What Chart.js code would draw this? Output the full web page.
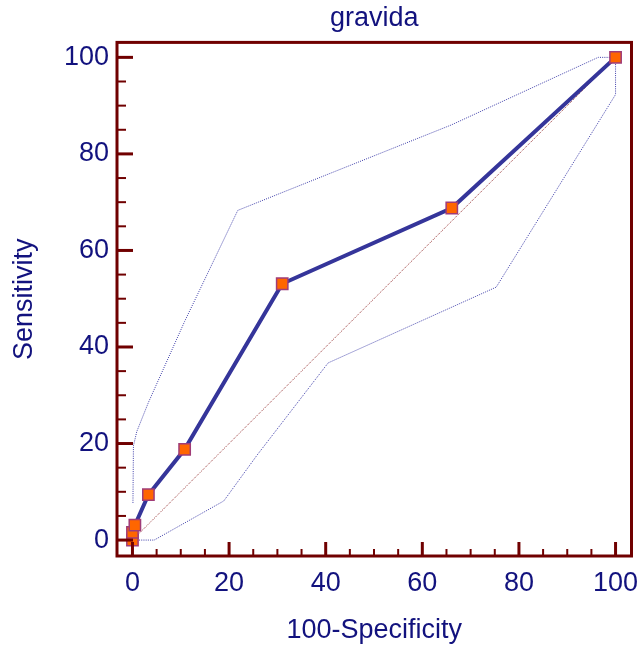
<!DOCTYPE html>
<html>
<head>
<meta charset="utf-8">
<script src="https://cdn.jsdelivr.net/npm/chart.js@4.4.1/dist/chart.umd.min.js"></script>
<style>
  html, body { margin: 0; padding: 0; background: #fff; }
  .box { width: 641px; height: 647px; }
</style>
</head>
<body>
<div class="box"><canvas id="chart"></canvas></div>
<script>
// ROC curve points (100-Specificity, Sensitivity)
const rocX = [0, 0, 0.5, 3.3, 10.8, 31.0, 66.1, 100];
const rocY = [0, 1.6, 3.1, 9.4, 18.8, 53.1, 68.8, 100];

// 95% confidence bounds
const upperX = [0.1, 0.2, 0.9, 3.3, 10.8, 21.8, 31.0, 66.0, 96.4, 100];
const upperY = [7.7, 19.5, 22.5, 28.5, 45.3, 68.3, 72.0, 86.0, 100, 100];
const lowerX = [0, 4.5, 18.9, 25.8, 40.5, 75.3, 100, 100];
const lowerY = [0, 0, 8.1, 17.6, 36.7, 52.4, 92.3, 100];

// reference diagonal
const diagX = [0, 100];
const diagY = [0, 100];

// axis ticks
const tickVals = [0, 20, 40, 60, 80, 100];
const MINOR_STEP = 5;

const TEXT = '#12127e';
const FRAME = '#700000';
const FONT = "'Liberation Sans', Arial, sans-serif";

const pts = (xs, ys) => xs.map((x, i) => ({ x, y: ys[i] }));

// frame + inward tick marks
const framePlugin = {
  id: 'frame',
  afterDatasetsDraw(chart) {
    const { ctx, chartArea: a, scales: { x, y } } = chart;
    ctx.save();
    ctx.strokeStyle = FRAME;
    ctx.lineCap = 'butt';
    for (let v = 0; v <= 100; v += MINOR_STEP) {
      const major = v % 20 === 0;
      ctx.lineWidth = major ? 3 : 2;
      const py = y.getPixelForValue(v);
      ctx.beginPath();
      ctx.moveTo(a.left, py);
      ctx.lineTo(a.left + (major ? 16 : 9), py);
      ctx.stroke();
      const px = x.getPixelForValue(v);
      ctx.beginPath();
      ctx.moveTo(px, a.bottom);
      ctx.lineTo(px, a.bottom - (major ? 14 : 7));
      ctx.stroke();
    }
    ctx.lineWidth = 3;
    ctx.strokeRect(a.left, a.top, a.right - a.left, a.bottom - a.top);
    ctx.restore();
  }
};

const ctx = document.getElementById('chart').getContext('2d');
new Chart(ctx, {
  type: 'scatter',
  data: {
    datasets: [
      {
        data: pts(rocX, rocY),
        showLine: true,
        borderColor: '#35359a',
        borderWidth: 4,
        pointStyle: 'rect',
        pointRadius: 8,
        pointBackgroundColor: '#ff6600',
        pointBorderColor: '#a03c78',
        pointBorderWidth: 1.5
      },
      {
        data: pts(upperX, upperY),
        showLine: true,
        borderColor: '#3c3ca8',
        borderWidth: 1,
        borderDash: [1, 1.2],
        pointRadius: 0
      },
      {
        data: pts(lowerX, lowerY),
        showLine: true,
        borderColor: '#3c3ca8',
        borderWidth: 1,
        borderDash: [1, 1.2],
        pointRadius: 0
      },
      {
        data: pts(diagX, diagY),
        showLine: true,
        borderColor: '#902828',
        borderWidth: 1,
        borderDash: [1, 1.2],
        pointRadius: 0
      }
    ]
  },
  options: {
    responsive: true,
    maintainAspectRatio: false,
    animation: false,
    layout: { padding: { left: 0, right: 9, top: 0, bottom: 0 } },
    plugins: {
      legend: { display: false },
      tooltip: { enabled: false },
      title: {
        display: true,
        text: 'gravida',
        fullSize: false,
        color: TEXT,
        font: { family: FONT, size: 27, weight: 'normal', lineHeight: 1.2 },
        padding: { top: 2, bottom: 8 }
      }
    },
    scales: {
      x: {
        type: 'linear',
        min: -3.2,
        max: 103.3,
        afterBuildTicks: s => { s.ticks = tickVals.map(v => ({ value: v })); },
        afterFit: s => { s.height = 91; s.paddingLeft = 0; s.paddingRight = 0; },
        grid: { display: false, drawTicks: false },
        border: { display: false },
        ticks: { color: TEXT, font: { family: FONT, size: 27 }, padding: 11, maxRotation: 0 },
        title: {
          display: true,
          text: '100-Specificity',
          color: TEXT,
          font: { family: FONT, size: 27 },
          padding: { top: 0, bottom: 0 }
        }
      },
      y: {
        type: 'linear',
        min: -3.3,
        max: 103.1,
        afterBuildTicks: s => { s.ticks = tickVals.map(v => ({ value: v })); },
        afterFit: s => { s.width = 117; },
        grid: { display: false, drawTicks: false },
        border: { display: false },
        ticks: { color: TEXT, font: { family: FONT, size: 27 }, padding: 8 },
        title: {
          display: true,
          text: 'Sensitivity',
          color: TEXT,
          font: { family: FONT, size: 27 },
          padding: { top: 8, bottom: 0 }
        }
      }
    }
  },
  plugins: [framePlugin]
});
</script>
</body>
</html>
